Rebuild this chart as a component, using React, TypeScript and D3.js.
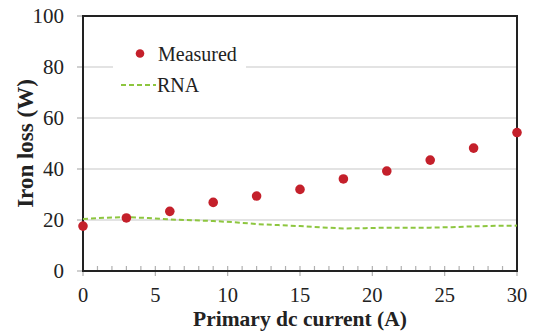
import React from "react";
import * as d3 from "d3";

const measuredX = [0, 3, 6, 9, 12, 15, 18, 21, 24, 27, 30];
const measuredY = [17.6, 20.8, 23.4, 26.9, 29.4, 32.0, 36.1, 39.2, 43.5, 48.2, 54.3];
const rnaX = [0, 1.5, 3, 4.5, 6, 7.5, 9, 10.5, 12, 13.5, 15, 16.5, 18, 19.5, 21, 22.5, 24, 25.5, 27, 28.5, 30];
const rnaY = [20.4, 20.9, 21.1, 20.8, 20.2, 19.9, 19.6, 19.1, 18.4, 18.0, 17.6, 17.1, 16.7, 16.8, 17.0, 17.0, 17.0, 17.2, 17.5, 17.7, 17.8];
const xTicks = [0, 5, 10, 15, 20, 25, 30];
const yTicks = [0, 20, 40, 60, 80, 100];

const W = 533;
const H = 334;
const L = 83, R = 517, T = 16, B = 271;
const FONT = "'Liberation Serif', 'Times New Roman', serif";

export default function App() {
  const x = d3.scaleLinear().domain([0, 30]).range([L, R]);
  const y = d3.scaleLinear().domain([0, 100]).range([B, T]);
  const line = d3.line<number>().x((_, i) => x(rnaX[i])).y((d) => y(d));
  const minor = d3.range(0, 31, 1);

  return (
    <svg width={W} height={H} style={{ position: "absolute", left: 0, top: 0, background: "#fff" }}>
      {/* gridlines */}
      {yTicks.filter((t) => t > 0 && t < 100).map((t) => (
        <line key={"g" + t} x1={L} x2={R} y1={y(t)} y2={y(t)} stroke="#c8c8c8" strokeWidth={1.2} />
      ))}
      {/* y ticks */}
      {yTicks.map((t) => (
        <line key={"yt" + t} x1={L - 6} x2={L} y1={y(t)} y2={y(t)} stroke="#b0b0b0" strokeWidth={1.2} />
      ))}
      {yTicks.map((t) => (
        <text key={"yl" + t} x={64} y={y(t) + 7} textAnchor="end" fontFamily={FONT} fontSize={21} fill="#222">
          {t}
        </text>
      ))}
      {/* x minor ticks */}
      {minor.map((t) => (
        <line key={"mt" + t} x1={x(t)} x2={x(t)} y1={B - 5} y2={t % 5 === 0 ? B + 5 : B} stroke="#b0b0b0" strokeWidth={1.2} />
      ))}
      {xTicks.map((t) => (
        <text key={"xl" + t} x={x(t)} y={301.5} textAnchor="middle" fontFamily={FONT} fontSize={20.5} fill="#222">
          {t}
        </text>
      ))}
      {/* legend background */}
      <rect x={113} y={36} width={133} height={62} fill="#fff" />
      {/* frame */}
      <rect x={L} y={T} width={R - L} height={B - T} fill="none" stroke="#222" strokeWidth={2} />
      {/* RNA line */}
      <path d={line(rnaY) || ""} fill="none" stroke="#8dc63f" strokeWidth={2} strokeDasharray="5,3" />
      {/* measured */}
      {measuredY.map((v, i) => (
        <circle key={"m" + i} cx={x(measuredX[i])} cy={y(v)} r={4.8} fill="#c4202b" />
      ))}
      {/* legend */}
      <circle cx={140} cy={53.5} r={4.3} fill="#c4202b" />
      <text x={158} y={61} fontFamily={FONT} fontSize={20} fill="#222">Measured</text>
      <line x1={121} x2={156} y1={85} y2={85} stroke="#8dc63f" strokeWidth={2} strokeDasharray="5,3" />
      <text x={157} y={92} fontFamily={FONT} fontSize={20} fill="#222">RNA</text>
      {/* axis titles */}
      <text x={(L + R) / 2} y={325.5} textAnchor="middle" fontFamily={FONT} fontSize={21.5} fontWeight="bold" fill="#222">
        Primary dc current (A)
      </text>
      <text
        transform={`translate(33, ${(T + B) / 2}) rotate(-90)`}
        textAnchor="middle"
        fontFamily={FONT}
        fontSize={23}
        fontWeight="bold"
        fill="#222"
      >
        Iron loss (W)
      </text>
    </svg>
  );
}
